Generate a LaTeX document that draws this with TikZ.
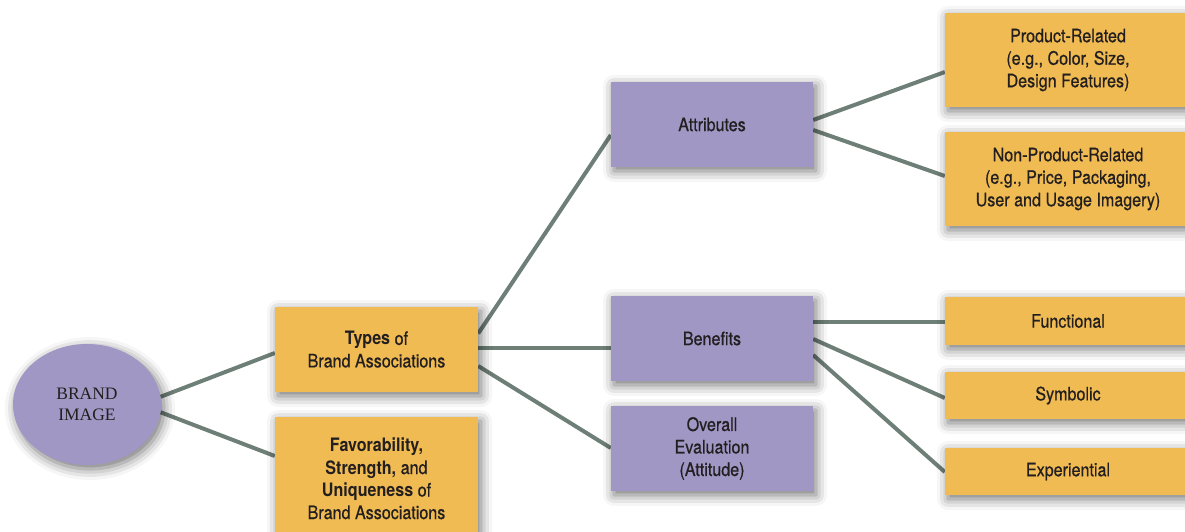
\documentclass[tikz,border=0pt]{standalone}
\usepackage{fontspec}
\setmainfont{TeX Gyre Heros}[FakeStretch=0.87, UprightFeatures={FakeBold=0.6}]
\newfontfamily\ovalfont{Liberation Serif}
\usetikzlibrary{shapes.geometric,shadows.blur,calc,backgrounds}

\definecolor{boxorange}{HTML}{EFBB52}
\definecolor{boxpurple}{HTML}{A197C4}
\definecolor{linkgray}{HTML}{6E7F78}
\definecolor{inktext}{HTML}{231F20}

\tikzset{
  base/.style={inner sep=0pt, align=center, text=inktext,
    font=\fontsize{18.5}{22.5}\selectfont,
    blur shadow={shadow xshift=3pt, shadow yshift=-4pt,
      shadow blur radius=11pt, shadow opacity=55}},
  obox/.style={base, rectangle, fill=boxorange},
  pbox/.style={base, rectangle, fill=boxpurple,
    minimum width=202pt, minimum height=85pt},
  rbox/.style={obox, minimum width=246pt},
  oval/.style={base, ellipse, fill=boxpurple,
    font=\ovalfont\fontsize{17.5}{21}\selectfont},
  link/.style={draw=linkgray, line width=4pt}
}

\begin{document}
\begin{tikzpicture}[x=1pt,y=-1pt]
  \useasboundingbox (0,0) rectangle (1185,531);
  \clip (0,0) rectangle (1185,531);

  % root
  \node[oval, minimum width=148pt, minimum height=121pt] (brand) at (87,404.5) {BRAND\\IMAGE};

  % second level
  \node[obox, minimum width=203pt, minimum height=85pt] (types) at (376.5,349.5)
    {\textbf{Types} of\\Brand Associations};
  \node[obox, minimum width=203pt, minimum height=123pt] (fav) at (376.5,478.5)
    {\textbf{Favorability,}\\\textbf{Strength,} and\\\textbf{Uniqueness} of\\Brand Associations};

  % third level
  \node[pbox] (attr) at (712,124.5) {Attributes};
  \node[pbox] (ben)  at (712,338.5) {Benefits};
  \node[pbox] (eval) at (712,448.5) {Overall\\Evaluation\\(Attitude)};

  % leaves
  \node[rbox, minimum height=94pt] (prod) at (1068,60)
    {Product-Related\\(e.g., Color, Size,\\Design Features)};
  \node[rbox, minimum height=94pt] (nonprod) at (1068,179)
    {Non-Product-Related\\(e.g., Price, Packaging,\\User and Usage Imagery)};
  \node[rbox, minimum height=48pt] (func) at (1068,321) {Functional};
  \node[rbox, minimum height=47pt] (symb) at (1068,395.5) {Symbolic};
  \node[rbox, minimum height=47pt] (expe) at (1068,471.5) {Experiential};

  % connectors
  \begin{scope}[on background layer]
    \draw[link] (brand.6) -- ($(types.west)+(0,3.5)$);
    \draw[link] (brand.-6) -- ($(fav.west)+(0,-22.5)$);
    \draw[link] ($(types.east)+(0,-16)$) -- ($(attr.west)+(0,10.5)$);
    \draw[link] ($(types.east)+(0,-1.5)$) -- ($(ben.west)+(0,9.5)$);
    \draw[link] ($(types.east)+(0,16.5)$) -- ($(eval.west)+(0,-0.5)$);
    \draw[link] ($(attr.east)+(0,-4.5)$) -- ($(prod.west)+(0,12)$);
    \draw[link] ($(attr.east)+(0,5.5)$) -- ($(nonprod.west)+(0,-3)$);
    \draw[link] ($(ben.east)+(0,-16.5)$) -- ($(func.west)+(0,1)$);
    \draw[link] ($(ben.east)+(0,0.5)$) -- ($(symb.west)+(0,2.5)$);
    \draw[link] ($(ben.east)+(0,16.5)$) -- ($(expe.west)+(0,0.5)$);
  \end{scope}
\end{tikzpicture}
\end{document}
